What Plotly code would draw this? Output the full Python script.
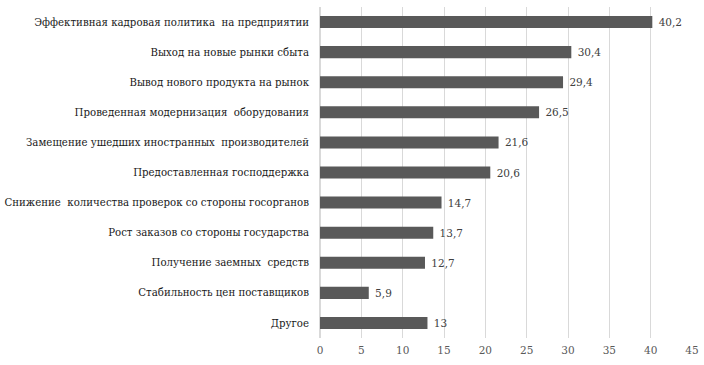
import plotly.graph_objects as go

categories = [
    "Эффективная кадровая политика\u00a0 на предприятии",
    "Выход на новые рынки сбыта",
    "Вывод нового продукта на рынок",
    "Проведенная модернизация\u00a0 оборудования",
    "Замещение ушедших иностранных\u00a0 производителей",
    "Предоставленная господдержка",
    "Снижение\u00a0 количества проверок со стороны госорганов",
    "Рост заказов со стороны государства",
    "Получение заемных\u00a0 средств",
    "Стабильность цен поставщиков",
    "Другое",
]
values = [40.2, 30.4, 29.4, 26.5, 21.6, 20.6, 14.7, 13.7, 12.7, 5.9, 13]
value_labels = ["40,2", "30,4", "29,4", "26,5", "21,6", "20,6", "14,7", "13,7", "12,7", "5,9", "13"]
x_ticks = [0, 5, 10, 15, 20, 25, 30, 35, 40, 45]

SERIF = "DejaVu Serif"

fig = go.Figure(go.Bar(
    y=categories,
    x=values,
    orientation="h",
    marker=dict(color="#595959", line=dict(width=0)),
    text=["\u00a0" + s for s in value_labels],
    textposition="outside",
    textfont=dict(family=SERIF, size=10.5, color="#404040"),
    cliponaxis=False,
    hoverinfo="skip",
))

fig.update_layout(
    width=704, height=365,
    margin=dict(l=320, r=12, t=7, b=27, autoexpand=False),
    paper_bgcolor="white", plot_bgcolor="white",
    bargap=0.6,
    showlegend=False,
    font=dict(family=SERIF, size=10.2, color="#000000"),
)
fig.update_xaxes(
    range=[0, 45],
    tickvals=x_ticks,
    ticktext=[str(t) for t in x_ticks],
    showgrid=True, gridcolor="#d9d9d9", gridwidth=1,
    zeroline=True, zerolinecolor="#d9d9d9",
    showline=False,
    tickfont=dict(family=SERIF, size=10.5, color="#595959"),
    ticks="",
    ticklabelstandoff=4,
    automargin=False,
)
fig.update_yaxes(
    categoryorder="array",
    categoryarray=categories[::-1],
    autorange=True,
    showgrid=False,
    showline=False,
    ticks="",
    ticklabelstandoff=10,
    automargin=False,
    tickfont=dict(family=SERIF, size=10.2, color="#1a1a1a"),
)

fig.write_html(
    "out.html",
    config={"displayModeBar": False},
    post_script="document.body.style.margin='0';document.body.style.padding='0';",
)
